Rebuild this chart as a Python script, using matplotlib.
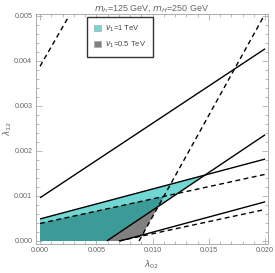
import numpy as np
import matplotlib
matplotlib.use("Agg")
import matplotlib.pyplot as plt
from matplotlib.patches import Patch, Polygon
from matplotlib.ticker import MultipleLocator

plt.rcParams['font.family'] = ['Liberation Sans', 'DejaVu Sans']

# boundary lines: (x0, y0, x1, y1) in data units
line_A = (0.0, 0.00096, 0.020, 0.00427)    # solid
line_B = (0.0, 0.00049, 0.020, 0.00182)    # solid (top of v1=1 TeV)
line_C = (0.00593, 0.0, 0.020, 0.00236)    # solid
line_D = (0.00711, 0.0, 0.020, 0.00087)    # solid
line_E = (0.0, 0.00039, 0.020, 0.00148)    # dashed (top of v1=0.5 TeV)
line_F = (0.0070, 0.0, 0.020, 0.00070)     # dashed
line_G = (0.0088, 0.0, 0.0199, 0.0050)     # dashed steep
line_H = (0.0, 0.00388, 0.00258, 0.0050)   # dashed steep

solid_lines = [line_A, line_B, line_C, line_D]
dashed_lines = [line_E, line_F, line_G, line_H]

legend_labels = [r"$v_1$=1 TeV", r"$v_1$=0.5 TeV"]
title = r"$m_h$=125 GeV, $m_H$=250 GeV"

c_cyan = "#72d6d2"
c_gray = "#808080"
c_dark = "#3c9a98"
c_text = "#666666"
c_frame = "#a0a0a0"


def coef(l):
    x0, y0, x1, y1 = l
    m = (y1 - y0) / (x1 - x0)
    return m, y0 - m * x0


def inter(l1, l2):
    m1, b1 = coef(l1)
    m2, b2 = coef(l2)
    x = (b2 - b1) / (m1 - m2)
    return (x, m1 * x + b1)


def xroot(l):
    m, b = coef(l)
    return -b / m


def y0(l):
    return coef(l)[1]


fig = plt.figure(figsize=(2.75, 2.73), dpi=100)
ax = fig.add_axes([0.13, 0.108, 0.845, 0.841])

# v1=1 TeV region
cyan_poly = [(0, 0), (0, y0(line_B)), inter(line_B, line_C), (xroot(line_C), 0)]
ax.add_patch(Polygon(cyan_poly, closed=True, facecolor=c_cyan, edgecolor='none', zorder=1))
# v1=0.5 TeV region
gray_poly = [(0, 0), (0, y0(line_E)), inter(line_E, line_G), inter(line_G, line_F), (xroot(line_F), 0)]
ax.add_patch(Polygon(gray_poly, closed=True, facecolor=c_gray, edgecolor='none', zorder=1))
# overlap
over_poly = [(0, 0), (0, y0(line_E)), inter(line_E, line_G), inter(line_G, line_C), (xroot(line_C), 0)]
ax.add_patch(Polygon(over_poly, closed=True, facecolor=c_dark, edgecolor='none', zorder=2))

for l in solid_lines:
    ax.plot([l[0], l[2]], [l[1], l[3]], color='black', lw=1.0, zorder=3, solid_capstyle='butt')
for l in dashed_lines:
    ax.plot([l[0], l[2]], [l[1], l[3]], color='black', lw=1.0, ls=(0, (3.5, 2.5)), zorder=3)

ax.set_xlim(-0.00038, 0.02027)
ax.set_ylim(-0.000056, 0.005044)
ax.xaxis.set_major_locator(MultipleLocator(0.005))
ax.xaxis.set_minor_locator(MultipleLocator(0.001))
ax.yaxis.set_major_locator(MultipleLocator(0.001))
ax.yaxis.set_minor_locator(MultipleLocator(0.0002))
ax.xaxis.set_major_formatter(plt.FuncFormatter(lambda v, p: f"{v:.3f}"))
ax.yaxis.set_major_formatter(plt.FuncFormatter(lambda v, p: f"{v:.3f}"))
ax.tick_params(which='both', direction='in', top=True, right=True, colors=c_frame,
               labelcolor=c_text, labelsize=5.2, width=0.5)
ax.tick_params(which='major', length=4, pad=2.5)
ax.tick_params(which='minor', length=2)
for s in ax.spines.values():
    s.set_color(c_frame)
    s.set_linewidth(0.6)

ax.set_xlabel(r"$\lambda_{02}$", color=c_text, fontsize=6.5, labelpad=3)
ax.set_ylabel(r"$\lambda_{12}$", color=c_text, fontsize=6.5, labelpad=2)
ax.yaxis.set_label_coords(-0.095, 0.5)
ax.set_title(title, color=c_text, fontsize=6.5, pad=2)

handles = [Patch(facecolor=c_cyan, edgecolor='#aaaaaa', lw=0.5),
           Patch(facecolor=c_gray, edgecolor='#aaaaaa', lw=0.5)]
leg = ax.legend(handles, legend_labels, loc='upper left', bbox_to_anchor=(0.205, 1.005),
                fontsize=5.5, frameon=True, fancybox=False, handlelength=0.9, handleheight=0.9,
                handletextpad=0.5, borderpad=0.9, labelspacing=0.7)
leg.get_frame().set_edgecolor('black')
leg.get_frame().set_linewidth(1.0)
for t in leg.get_texts():
    t.set_color('#444444')

fig.savefig("out.png", dpi=100)
